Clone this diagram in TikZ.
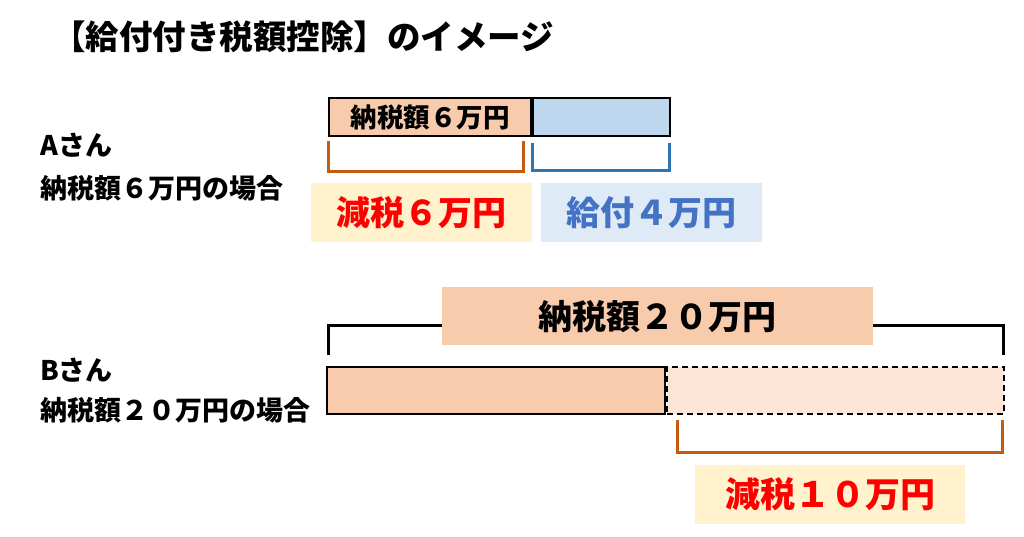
\documentclass[tikz,border=0pt]{standalone}
\usepackage{fontspec}
\setmainfont{Noto Sans CJK JP}
\usetikzlibrary{positioning}
\definecolor{taxpink}{RGB}{248, 203, 173}
\definecolor{lightpink}{RGB}{252, 228, 214}
\definecolor{paleblue}{RGB}{189, 215, 238}
\definecolor{orangeline}{RGB}{197, 90, 17}
\definecolor{blueline}{RGB}{46, 117, 182}
\definecolor{cream}{RGB}{255, 242, 204}
\definecolor{lightblue}{RGB}{222, 235, 247}
\definecolor{redtext}{RGB}{255, 0, 0}
\definecolor{bluetext}{RGB}{68, 114, 196}
\tikzstyle{bar} = [
    draw=black,
    line width=2pt,
    inner sep=0pt,
    minimum height=38pt
]
\tikzstyle{sumbox} = [
    inner sep=0pt,
    minimum height=59pt,
    font=\fontsize{34}{40}\selectfont\bfseries
]
\tikzstyle{brace} = [
    line width=3pt
]
\tikzstyle{side} = [
    anchor=west,
    inner sep=0pt,
    font=\fontsize{27}{32}\selectfont\bfseries
]

\begin{document}
\begin{tikzpicture}[x=1pt, y=-1pt]
    \useasboundingbox (0,0) rectangle (1024,536);
    \node[anchor=west, inner sep=0pt, font=\fontsize{33.5}{40}\selectfont\bfseries] (title) at (52,37) {【給付付き税額控除】のイメージ};
    % Aさん
    \node[side] (nameA) at (40,145) {Aさん};
    \node[side] (caseA) at (40,188) {納税額６万円の場合};
    \node[bar, fill=taxpink, minimum width=202pt, anchor=north west, font=\fontsize{26.5}{30}\selectfont\bfseries] (taxA) at (328,97) {納税額６万円};
    \node[bar, fill=paleblue, minimum width=137pt, right=0pt of taxA] (benefitA) {};
    \draw[brace, draw=orangeline] (328,141) |- (523,171) -- (523,141);
    \draw[brace, draw=blueline] (532,143) |- (669,170) -- (669,143);
    \node[sumbox, fill=cream, text=redtext, minimum width=221pt, anchor=north west] (cutA) at (311,183) {減税６万円};
    \node[sumbox, fill=lightblue, text=bluetext, minimum width=221pt, anchor=north west] (payA) at (541,183) {給付４万円};
    % Bさん
    \node[side] (nameB) at (40,370) {Bさん};
    \node[side] (caseB) at (40,410) {納税額２０万円の場合};
    \draw[brace] (328,355) |- (1003,325) -- (1003,355);
    \node[sumbox, fill=taxpink, text=black, minimum width=431pt, minimum height=58pt, anchor=north west] (taxB) at (442,287) {納税額２０万円};
    \node[bar, fill=lightpink, dash pattern=on 6pt off 4pt, minimum width=337pt, minimum height=47pt, anchor=north west] (cutbarB) at (666,366) {};
    \node[bar, fill=taxpink, minimum width=338pt, minimum height=47pt, left=0pt of cutbarB] (paidB) {};
    \draw[brace, draw=orangeline] (677,420) |- (1002,452) -- (1002,420);
    \node[sumbox, fill=cream, text=redtext, minimum width=270pt, anchor=north west, font=\fontsize{35}{40}\selectfont\bfseries] (cutB) at (695,465) {減税１０万円};
\end{tikzpicture}
\end{document}
